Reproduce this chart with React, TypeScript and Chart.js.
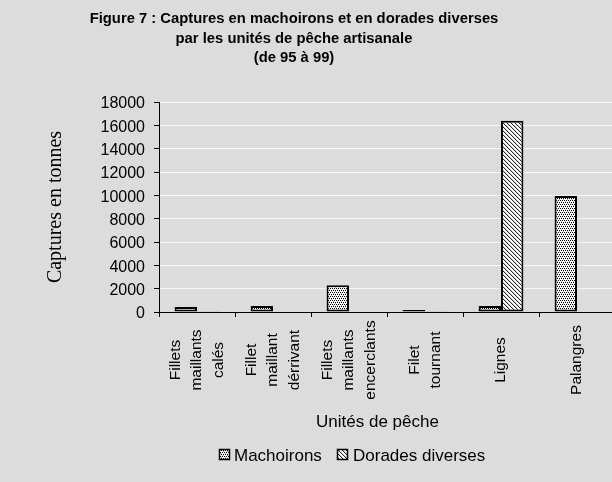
import React, { useEffect, useRef } from "react";
import { Chart, registerables } from "chart.js";

Chart.register(...registerables);

// ---- Data ----
const categories: string[][] = [
  ["Fillets", "maillants", "calés"],
  ["Fillet", "maillant", "dérrivant"],
  ["Fillets", "maillants", "encerclants"],
  ["Filet", "tournant"],
  ["Lignes"],
  ["Palangres"],
];
const machoirons: number[] = [420, 520, 2300, 180, 520, 9950];
const dorades: number[] = [60, 0, 0, 60, 16400, 0];
const seriesNames: string[] = ["Machoirons", "Dorades diverses"];
const titleLines: string[] = [
  "Figure 7 : Captures en machoirons et en dorades diverses",
  "par les unités de pêche artisanale",
  "(de 95 à 99)",
];
const xTitle = "Unités de pêche";
const yTitle = "Captures en tonnes";
const yMin = 0;
const yMax = 18000;
const yStep = 2000;

const SANS = "'Liberation Sans', Arial, sans-serif";
const SERIF = "'Liberation Serif', 'Times New Roman', serif";

function makeDotPattern(): CanvasPattern | string {
  const c = document.createElement("canvas");
  c.width = 4;
  c.height = 4;
  const g = c.getContext("2d");
  if (!g) return "#999";
  g.fillStyle = "#ffffff";
  g.fillRect(0, 0, 4, 4);
  g.fillStyle = "#000000";
  g.fillRect(0, 0, 1, 1);
  g.fillRect(2, 0, 1, 1);
  g.fillRect(1, 2, 1, 1);
  g.fillRect(3, 2, 1, 1);
  g.fillStyle = "#b0b0b0";
  g.fillRect(1, 1, 1, 1);
  g.fillRect(3, 3, 1, 1);
  const p = g.createPattern(c, "repeat");
  return p || "#999";
}

function makeDiagPattern(): CanvasPattern | string {
  const c = document.createElement("canvas");
  c.width = 4;
  c.height = 4;
  const g = c.getContext("2d");
  if (!g) return "#bbb";
  g.fillStyle = "#ffffff";
  g.fillRect(0, 0, 4, 4);
  g.fillStyle = "#2a2a2a";
  for (let i = 0; i < 4; i++) g.fillRect(i, i, 1, 1);
  g.fillStyle = "#d0d0d0";
  for (let i = 0; i < 4; i++) g.fillRect((i + 1) % 4, i, 1, 1);
  const p = g.createPattern(c, "repeat");
  return p || "#bbb";
}

export default function App() {
  const ref = useRef<HTMLCanvasElement | null>(null);

  useEffect(() => {
    const canvas = ref.current;
    if (!canvas) return;
    const patM = makeDotPattern();
    const patD = makeDiagPattern();
    const fills = [patM, patD];

    const textPlugin = {
      id: "textPlugin",
      beforeDraw(chart: any) {
        const ctx = chart.ctx;
        ctx.save();
        ctx.fillStyle = "#dcdcdc";
        ctx.fillRect(0, 0, chart.width, chart.height);
        ctx.restore();
      },
      afterDraw(chart: any) {
        const ctx = chart.ctx;
        const xs = chart.scales.x;
        ctx.save();
        ctx.fillStyle = "#000";
        ctx.textAlign = "center";
        ctx.textBaseline = "middle";
        // Title
        ctx.font = `bold 14.8px ${SANS}`;
        const ty = [19, 39, 58];
        titleLines.forEach((t, i) => ctx.fillText(t, 294, ty[i]));
        // X tick labels (rotated, centred lines)
        ctx.font = `15.5px ${SANS}`;
        categories.forEach((lines, i) => {
          const x = xs.getPixelForValue(i);
          ctx.save();
          ctx.translate(x, 360);
          ctx.rotate(-Math.PI / 2);
          const n = lines.length;
          lines.forEach((ln, j) => {
            ctx.fillText(ln, 0, (j - (n - 1) / 2) * 21.5);
          });
          ctx.restore();
        });
        // X title
        ctx.font = `17px ${SANS}`;
        ctx.fillText(xTitle, 377.5, 422.5);
        // Legend
        const boxes = [219, 337];
        const texts = [234, 353];
        ctx.textAlign = "left";
        seriesNames.forEach((name, i) => {
          ctx.fillStyle = fills[i] as any;
          ctx.fillRect(boxes[i], 449, 11, 11);
          ctx.strokeStyle = "#000";
          ctx.lineWidth = 1.5;
          ctx.strokeRect(boxes[i] + 0.5, 449.5, 10, 10);
          ctx.fillStyle = "#000";
          ctx.fillText(name, texts[i], 456);
        });
        ctx.restore();
      },
    };

    const chart = new Chart(canvas, {
      type: "bar",
      data: {
        labels: categories.map((c) => c.join(" ")),
        datasets: [
          {
            label: seriesNames[0],
            data: machoirons,
            backgroundColor: patM as any,
            borderColor: "#000",
            borderWidth: 2,
            borderSkipped: false,
            categoryPercentage: 0.59,
            barPercentage: 1,
          },
          {
            label: seriesNames[1],
            data: dorades,
            backgroundColor: patD as any,
            borderColor: "#000",
            borderWidth: 2,
            borderSkipped: false,
            categoryPercentage: 0.59,
            barPercentage: 1,
          },
        ],
      },
      options: {
        animation: false,
        responsive: false,
        maintainAspectRatio: false,
        devicePixelRatio: 1,
        layout: { padding: { top: 102, left: 0, right: 0, bottom: 0 } },
        plugins: {
          legend: { display: false },
          title: { display: false },
          tooltip: { enabled: false },
        },
        scales: {
          x: {
            offset: true,
            grid: {
              display: true,
              drawOnChartArea: false,
              drawTicks: true,
              tickLength: 5,
              tickColor: "#000",
              offset: true,
              color: "#000",
            },
            border: { display: true, color: "#000", width: 1 },
            ticks: { display: false },
            afterFit: (s: any) => {
              s.height = 170;
            },
          },
          y: {
            min: yMin,
            max: yMax,
            ticks: {
              stepSize: yStep,
              color: "#000",
              font: { family: SANS, size: 16 },
              padding: 9,
              labelOffset: 2,
              callback: (v: any) => String(v),
            },
            grid: {
              color: (c: any) => (c.tick && c.tick.value === 0 ? "rgba(0,0,0,0)" : "#f6f6f6"),
              tickColor: "#000",
              tickLength: 5,
              lineWidth: 1,
            },
            border: { display: true, color: "#000", width: 1 },
            title: {
              display: true,
              text: yTitle,
              color: "#000",
              font: { family: SERIF, size: 20 },
              padding: { top: 44, bottom: 0 },
            },
            afterFit: (s: any) => {
              s.width = 159;
            },
          },
        },
      },
      plugins: [textPlugin],
    });
    return () => chart.destroy();
  }, []);

  return (
    <div
      style={{
        position: "absolute",
        left: 0,
        top: 0,
        width: 612,
        height: 482,
        overflow: "hidden",
      }}
    >
      <canvas ref={ref} width={615} height={482} style={{ display: "block" }} />
    </div>
  );
}
